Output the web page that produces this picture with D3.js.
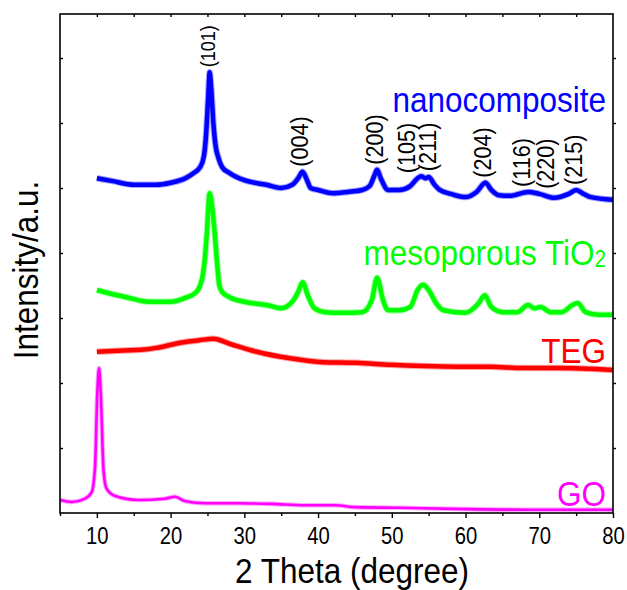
<!DOCTYPE html>
<html>
<head>
  <meta charset="utf-8">
  <script src="https://d3js.org/d3.v7.min.js"></script>
  <style>
    body { margin: 0; background: #fff; }
    text { font-family: Arial, "Liberation Sans", sans-serif; fill: #000; }
  </style>
</head>
<body>
<div id="chart"></div>
<script>

// XRD patterns (2 theta in degree, intensity in a.u. with the stacking offsets)
const blueTheta = [10, 12, 15, 18, 20, 22, 23, 24, 24.5, 24.8, 25.1, 25.3, 25.5, 25.8, 26.1, 26.5, 27, 28, 30, 33,
  35, 36.5, 37.3, 37.9, 38.5, 39, 40, 42, 44, 46, 47, 47.6, 48, 48.5, 49.5, 51, 52.5, 53.5, 54, 54.6,
  55, 55.8, 56.5, 58, 60, 61.5, 62.7, 63.5, 64.5, 66, 68.5, 70, 72, 74, 75, 76, 77, 80]
const blueInt = [515, 511, 505, 505, 508, 515, 522, 532, 548, 580, 640, 678, 655, 600, 565, 546, 532, 523, 512, 505,
  500, 505, 515, 525, 512, 500, 497, 492, 494, 497, 503, 518, 528, 515, 497, 497, 503, 515, 518, 515,
  517, 505, 497, 491, 486, 494, 508, 497, 489, 488, 494, 491, 485, 491, 497, 491, 486, 482]

const greenTheta = [10, 11, 14, 17, 20, 22, 23.5, 24.3, 24.6, 24.9, 25.3, 25.8, 26.3, 26.6, 27, 28, 30, 33, 35, 36.5,
  37.3, 37.9, 38.6, 39.5, 41, 43, 46, 47.3, 48, 48.8, 49.5, 51, 52.5, 53.5, 54.2, 55, 56, 57, 60, 61.8,
  62.6, 63.5, 65, 67, 68.5, 69.3, 70.2, 71.5, 73, 74.5, 75.2, 76.3, 78, 80]
const greenInt = [343, 340, 332, 325, 325, 331, 340, 362, 386, 428, 492, 454, 386, 351, 340, 332, 325, 320, 315, 325,
  340, 355, 335, 315, 309, 308, 309, 328, 362, 328, 312, 312, 317, 343, 351, 343, 323, 312, 308, 323,
  335, 317, 309, 309, 320, 315, 317, 309, 309, 320, 323, 309, 305, 305]

const redTheta = [10, 13.6, 16, 18.1, 21.3, 24, 25.8, 28.1, 31.7, 36.2, 40.7, 45.2, 49.8, 54.3, 58.8, 63.3, 67.8, 72.4, 80]
const redInt = [248, 250, 251, 254, 262, 266, 268, 260, 248, 238, 232, 231, 228, 226, 225, 225, 223, 223, 220]

const goTheta = [5, 6.6, 8.4, 9.3, 9.75, 10.06, 10.3, 10.56, 10.9, 11.3, 12.5, 15.6, 19.2, 20.6, 22, 24.7, 29.2,
  33.7, 38.2, 42.3, 45, 51.1, 60.2, 69.2, 80]
const goInt = [20, 17, 22, 32, 71, 185, 223, 174, 66, 38, 26, 20, 22, 25, 18, 15, 15, 14, 12, 12, 9, 8, 6, 5, 5]

const seriesNames = ["nanocomposite", "mesoporous TiO2", "TEG", "GO"]
const seriesColors = ["#0000ff", "#00ff00", "#ff0000", "#ff00ff"]

// anatase reflections marked above the nanocomposite trace
const peakLabels = ["(101)", "(004)", "(200)", "(105)", "(211)", "(204)", "(116)", "(220)", "(215)"]
const peakTheta = [25.3, 37.8, 48.0, 52.3, 55.2, 62.6, 67.9, 71.2, 75.0]

const xTicks = [10, 20, 30, 40, 50, 60, 70, 80]

const width = 627,
    height = 590
const margin = { top: 14, right: 14, bottom: 77, left: 60 }

const x = d3.scaleLinear().domain([5, 80]).range([margin.left, width - margin.right])
const y = d3.scaleLinear().domain([0, 767.7]).range([height - margin.bottom, margin.top])

const svg = d3.select("#chart").append("svg")
    .attr("width", width)
    .attr("height", height)

const series = [
    { theta: blueTheta, int: blueInt, w: 4.5 },
    { theta: greenTheta, int: greenInt, w: 4.5 },
    { theta: redTheta, int: redInt, w: 4.5 },
    { theta: goTheta, int: goInt, w: 2.6 }
]

const line = d3.line()
    .x(d => x(d[0]))
    .y(d => y(d[1]))
    .curve(d3.curveMonotoneX)

// traces, bottom one first
series.slice().reverse().forEach((s, k) => {
    const i = series.length - 1 - k
    const pts = s.theta.map((t, j) => [t, s.int[j]])
    svg.append("path")
        .attr("d", line(pts))
        .attr("fill", "none")
        .attr("stroke", seriesColors[i])
        .attr("stroke-width", s.w + 2)
        .attr("stroke-opacity", 0.35)
        .attr("stroke-linejoin", "round")
    svg.append("path")
        .attr("d", line(pts))
        .attr("fill", "none")
        .attr("stroke", seriesColors[i])
        .attr("stroke-width", s.w)
        .attr("stroke-linejoin", "round")
})

// axes
const plotBottom = height - margin.bottom,
    plotTop = margin.top,
    plotLeft = margin.left,
    plotRight = width - margin.right

function styleAxis(g) {
    g.select(".domain").remove()
    g.selectAll("line").attr("stroke", "#000").attr("stroke-width", 1.4)
}

svg.append("g")
    .attr("transform", `translate(0,${plotBottom})`)
    .call(d3.axisBottom(x).tickValues(xTicks).tickSize(5).tickSizeOuter(0).tickPadding(10).tickFormat(d3.format("d")))
    .call(styleAxis)
    .call(g => g.selectAll("text")
        .attr("font-size", 23)
        .attr("font-family", "Arial, 'Liberation Sans', sans-serif")
        .attr("fill", "#000")
        .attr("transform", "scale(0.88,1)"))

svg.append("g")
    .attr("transform", `translate(0,${plotBottom})`)
    .call(d3.axisBottom(x).tickValues(d3.range(5, 80, 10)).tickSize(3).tickSizeOuter(0).tickFormat(""))
    .call(styleAxis)

svg.append("g")
    .attr("transform", `translate(0,${plotTop})`)
    .call(d3.axisBottom(x).tickValues(d3.range(10, 80, 5)).tickSize(3).tickSizeOuter(0).tickFormat(""))
    .call(styleAxis)

svg.append("g")
    .attr("transform", `translate(${plotLeft},0)`)
    .call(d3.axisRight(y).tickValues(d3.range(100, 701, 100)).tickSize(3).tickSizeOuter(0).tickFormat(""))
    .call(styleAxis)

svg.append("g")
    .attr("transform", `translate(${plotRight},0)`)
    .call(d3.axisRight(y).tickValues(d3.range(100, 701, 100)).tickSize(3).tickSizeOuter(0).tickFormat(""))
    .call(styleAxis)

svg.append("rect")
    .attr("x", plotLeft)
    .attr("y", plotTop)
    .attr("width", plotRight - plotLeft)
    .attr("height", plotBottom - plotTop)
    .attr("fill", "none")
    .attr("stroke", "#000")
    .attr("stroke-width", 1.6)

// axis titles
svg.append("text")
    .attr("transform", `translate(352,583) scale(0.9,1)`)
    .attr("text-anchor", "middle")
    .attr("font-size", 35)
    .text("2 Theta (degree)")

svg.append("text")
    .attr("transform", `translate(38,270) rotate(-90) scale(0.9,1)`)
    .attr("text-anchor", "middle")
    .attr("font-size", 35)
    .text("Intensity/a.u.")

// peak labels, sitting just above the highest point of the trace nearby
peakLabels.forEach((lab, i) => {
    const t = peakTheta[i]
    const near = blueInt.filter((v, j) => Math.abs(blueTheta[j] - t) <= 1.5)
    const yTop = y(d3.max(near)) - 5
    svg.append("text")
        .attr("transform", `translate(${x(t)},${yTop}) rotate(-90) scale(0.9,1)`)
        .attr("text-anchor", "start")
        .attr("dy", "0.26em")
        .attr("font-size", lab === "(101)" ? 20 : 24)
        .text(lab)
})

// series names, right aligned inside the frame
const nameBaseline = [112, 265, 363, 506]
seriesNames.forEach((name, i) => {
    const t = svg.append("text")
        .attr("transform", `translate(606,${nameBaseline[i]}) scale(0.9,1)`)
        .attr("text-anchor", "end")
        .attr("font-size", 35)
        .style("fill", seriesColors[i])
    const m = name.match(/^(.*?)(\d+)$/)
    if (m) {
        t.append("tspan").text(m[1])
        t.append("tspan").attr("font-size", 23).attr("dy", 2).text(m[2])
    } else {
        t.text(name)
    }
})

</script>
</body>
</html>
